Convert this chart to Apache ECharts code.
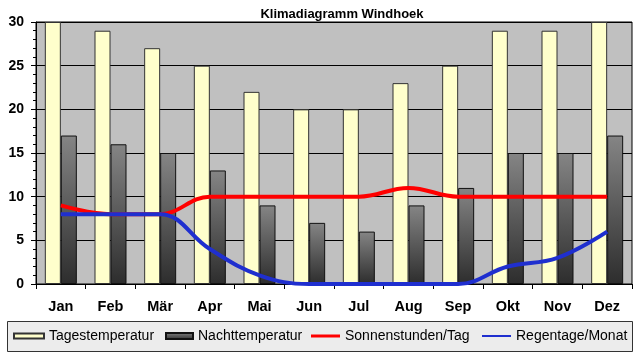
<!DOCTYPE html>
<html>
<head>
<meta charset="utf-8">
<script src="https://cdn.jsdelivr.net/npm/echarts@6/dist/echarts.min.js"></script>
<style>
html,body{margin:0;padding:0;background:#fff;}
#chart{width:640px;height:358px;}
</style>
</head>
<body>
<div id="chart"></div>
<script>
const months = ['Jan','Feb','Mär','Apr','Mai','Jun','Jul','Aug','Sep','Okt','Nov','Dez'];
const tagestemperatur = [30, 29, 27, 25, 22, 20, 20, 23, 25, 29, 29, 30];
const nachttemperatur = [17, 16, 15, 13, 9, 7, 6, 9, 11, 15, 15, 17];
const sonnenstunden = [9, 8, 8, 10, 10, 10, 10, 11, 10, 10, 10, 10];
const regentage = [8, 8, 8, 4, 1, 0, 0, 0, 0, 2, 3, 6];
const yTicks = [0, 5, 10, 15, 20, 25, 30];

const FONT = 'Arial, "Liberation Sans", sans-serif';
const chart = echarts.init(document.getElementById('chart'), null, {renderer: 'canvas'});

function legendAt(name, left, width, height, extra) {
  return Object.assign({
    data: [name],
    left: left,
    top: 328,
    padding: 0,
    itemWidth: width,
    itemHeight: height,
    icon: 'rect',
    selectedMode: false,
    textStyle: {fontFamily: FONT, fontSize: 14, color: '#000', lineHeight: 16}
  }, extra || {});
}

const option = {
  animation: false,
  backgroundColor: '#fff',
  title: {
    text: 'Klimadiagramm Windhoek',
    left: 337,
    top: 3,
    textAlign: 'center',
    textStyle: {fontFamily: FONT, fontSize: 13, fontWeight: 'bold', color: '#000'}
  },
  graphic: [{
    type: 'rect',
    shape: {x: 7.5, y: 321.5, width: 625, height: 30},
    style: {fill: '#ECECEC', stroke: '#333', lineWidth: 1},
    z: -1
  }],
  legend: [
    legendAt('Tagestemperatur', 13, 30, 5),
    legendAt('Nachttemperatur', 165, 27, 6),
    legendAt('Sonnenstunden/Tag', 311, 29, 3),
    legendAt('Regentage/Monat', 482, 29, 2)
  ],
  grid: {
    left: 36, right: 8, top: 22, bottom: 74,
    show: true, backgroundColor: '#C0C0C0', borderColor: '#000', borderWidth: 1
  },
  xAxis: {
    type: 'category',
    data: months,
    boundaryGap: true,
    axisLine: {lineStyle: {color: '#000', width: 1}},
    axisTick: {show: true, length: 5, lineStyle: {color: '#000'}},
    axisLabel: {fontFamily: FONT, fontSize: 14.5, fontWeight: 'bold', color: '#000', margin: 15},
    splitLine: {show: false}
  },
  yAxis: {
    type: 'value',
    min: 0, max: 30, interval: 5,
    axisLine: {show: true, lineStyle: {color: '#000', width: 1}},
    axisTick: {show: true, length: 5, lineStyle: {color: '#000'}},
    minorTick: {show: true, splitNumber: 5, length: 3, lineStyle: {color: '#000'}},
    axisLabel: {
      fontFamily: FONT, fontSize: 14, fontWeight: 'bold', color: '#000', margin: 12,
      formatter: function (v) { return yTicks.indexOf(v) >= 0 ? String(v) : ''; }
    },
    splitLine: {show: true, lineStyle: {color: '#000', width: 1}}
  },
  series: [
    {
      name: 'Tagestemperatur',
      type: 'bar',
      data: tagestemperatur,
      barWidth: 16,
      barGap: '0%',
      itemStyle: {color: '#FFFFCC', borderColor: '#333', borderWidth: 1}
    },
    {
      name: 'Nachttemperatur',
      type: 'bar',
      data: nachttemperatur,
      barWidth: 16,
      barGap: '0%',
      itemStyle: {
        color: new echarts.graphic.LinearGradient(0, 0, 0, 1, [
          {offset: 0, color: '#858585'},
          {offset: 1, color: '#2d2d2d'}
        ]),
        borderColor: '#111', borderWidth: 1
      }
    },
    {
      name: 'Sonnenstunden/Tag',
      type: 'line',
      data: sonnenstunden,
      smooth: 0.4,
      symbol: 'none',
      lineStyle: {color: '#FF0000', width: 4},
      itemStyle: {color: '#FF0000'},
      z: 5
    },
    {
      name: 'Regentage/Monat',
      type: 'line',
      data: regentage,
      smooth: 0.4,
      symbol: 'none',
      lineStyle: {color: '#1F2FCF', width: 4},
      itemStyle: {color: '#1F2FCF'},
      z: 6
    }
  ]
};
chart.setOption(option);
</script>
</body>
</html>
